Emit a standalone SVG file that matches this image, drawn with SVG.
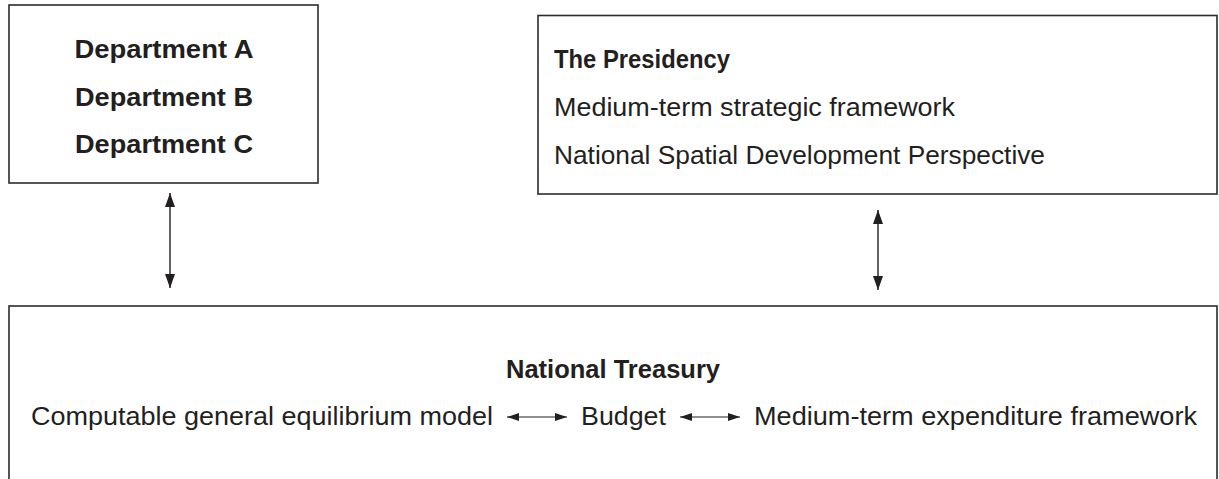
<svg xmlns="http://www.w3.org/2000/svg" width="1219" height="479" viewBox="0 0 1219 479">
  <style>
    .box { fill: #ffffff; stroke: #2b2b2b; stroke-width: 1.6; }
    .t { font-family: "Liberation Sans", Arial, sans-serif; font-size: 26.4px; fill: #231f20; }
    .b { font-weight: bold; font-size: 26px; }
    .c { text-anchor: middle; }
    .link { stroke: #231f20; fill: none; }
    .v { stroke-width: 1.4; marker-start: url(#headV); marker-end: url(#headV); }
    .h { stroke-width: 1.2; marker-start: url(#headH); marker-end: url(#headH); }
  </style>
  <defs>
    <marker id="headV" viewBox="0 0 14 10" refX="14" refY="5" markerWidth="14" markerHeight="10" markerUnits="userSpaceOnUse" orient="auto-start-reverse">
      <path d="M0,0 L14,5 L0,10 Z" fill="#231f20"/>
    </marker>
    <marker id="headH" viewBox="0 0 12 8" refX="12" refY="4" markerWidth="12" markerHeight="8" markerUnits="userSpaceOnUse" orient="auto-start-reverse">
      <path d="M0,0 L12,4 L0,8 Z" fill="#231f20"/>
    </marker>
  </defs>

  <!-- departments -->
  <g id="departments">
    <rect class="box" x="9" y="5" width="309" height="178"/>
    <text class="t b c" x="164" y="58" textLength="179" lengthAdjust="spacingAndGlyphs">Department A</text>
    <text class="t b c" x="164" y="106" textLength="178" lengthAdjust="spacingAndGlyphs">Department B</text>
    <text class="t b c" x="164" y="153" textLength="178" lengthAdjust="spacingAndGlyphs">Department C</text>
  </g>

  <!-- presidency -->
  <g id="presidency">
    <rect class="box" x="538" y="15.5" width="679" height="178.5"/>
    <text class="t b" x="554" y="68" textLength="176" lengthAdjust="spacingAndGlyphs">The Presidency</text>
    <text class="t" x="554" y="116" textLength="401" lengthAdjust="spacingAndGlyphs">Medium-term strategic framework</text>
    <text class="t" x="554" y="164" textLength="491" lengthAdjust="spacingAndGlyphs">National Spatial Development Perspective</text>
  </g>

  <!-- treasury -->
  <g id="treasury">
    <rect class="box" x="9" y="306" width="1208" height="200"/>
    <text class="t b c" x="613" y="378" textLength="214" lengthAdjust="spacingAndGlyphs">National Treasury</text>
    <text class="t" x="31" y="425" textLength="462" lengthAdjust="spacingAndGlyphs">Computable general equilibrium model</text>
    <text class="t" x="581" y="425" textLength="85" lengthAdjust="spacingAndGlyphs">Budget</text>
    <text class="t" x="754" y="425" textLength="443" lengthAdjust="spacingAndGlyphs">Medium-term expenditure framework</text>
  </g>

  <!-- connectors -->
  <g id="connectors">
    <line class="link v" x1="170" y1="193" x2="170" y2="288"/>
    <line class="link v" x1="878" y1="210" x2="878" y2="290"/>
    <line class="link h" x1="507" y1="417" x2="567" y2="417"/>
    <line class="link h" x1="680" y1="417" x2="740" y2="417"/>
  </g>
</svg>
